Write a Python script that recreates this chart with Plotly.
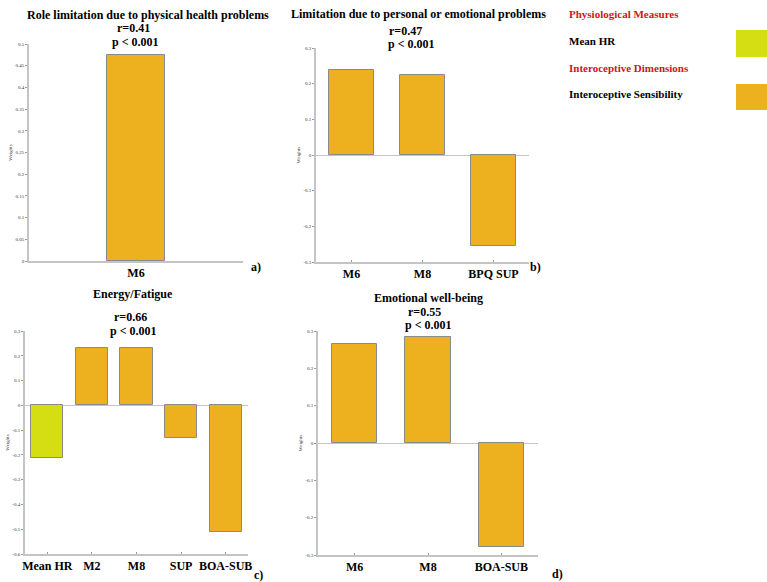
import plotly.graph_objects as go

W, H = 767, 582

# ---- data ----
a_cats = ["M6"]
a_vals = [0.475]
b_cats = ["M6", "M8", "BPQ SUP"]
b_vals = [0.238, 0.224, -0.254]
c_cats = ["Mean HR", "M2", "M8", "SUP", "BOA-SUB"]
c_vals = [-0.213, 0.232, 0.232, -0.131, -0.51]
c_groups = ["physio", "intero", "intero", "intero", "intero"]
d_cats = ["M6", "M8", "BOA-SUB"]
d_vals = [0.264, 0.283, -0.279]

a_ticks = [0, 0.05, 0.1, 0.15, 0.2, 0.25, 0.3, 0.35, 0.4, 0.45, 0.5]
b_ticks = [-0.3, -0.2, -0.1, 0, 0.1, 0.2, 0.3]
c_ticks = [-0.6, -0.5, -0.4, -0.3, -0.2, -0.1, 0, 0.1, 0.2, 0.3]
d_ticks = [-0.3, -0.2, -0.1, 0, 0.1, 0.2, 0.3]

COL_INTERO = "#EDB120"
COL_PHYSIO = "#D4DE12"
EDGE = "#8a8a8a"
AX = "#c4c4c4"
SERIF = "Liberation Serif"

fig = go.Figure()

def px_x(x):
    return x / W

def px_y(y):
    return 1 - y / H

panels = [
    ("a", a_cats, a_vals, [COL_INTERO], (29, 243), (44, 261), (0, 0.5), a_ticks, (-1.125, 1.125), 0.6),
    ("b", b_cats, b_vals, [COL_INTERO]*3, (316, 529), (48, 262), (-0.3, 0.3), b_ticks, (-0.5, 2.5), 0.62),
    ("c", c_cats, c_vals, [COL_PHYSIO if g == "physio" else COL_INTERO for g in c_groups],
     (25, 248), (331, 554), (-0.6, 0.3), c_ticks, (-0.5, 4.5), 0.72),
    ("d", d_cats, d_vals, [COL_INTERO]*3, (318, 538), (331, 555), (-0.3, 0.3), d_ticks, (-0.5, 2.5), 0.62),
]

def fmt(v):
    s = ("%.2f" % v).rstrip("0").rstrip(".")
    return "0" if s in ("-0", "0") else s

for i, (name, cats, vals, cols, xd, yd, yr, tv, xr, bw) in enumerate(panels):
    k = "" if i == 0 else str(i + 1)
    fig.add_trace(go.Bar(
        x=list(range(len(cats))), y=vals, width=bw,
        marker=dict(color=cols, line=dict(color=EDGE, width=1)),
        xaxis="x" + k, yaxis="y" + k, showlegend=False,
    ))
    fig.layout["xaxis" + k] = dict(
        domain=[px_x(xd[0]), px_x(xd[1])], range=list(xr), anchor="y" + k,
        tickmode="array", tickvals=list(range(len(cats))),
        ticktext=["<b>%s</b>" % c for c in cats],
        tickfont=dict(family=SERIF, size=12, color="black"), tickangle=0,
        showline=True, linecolor=AX, linewidth=1.5, showgrid=False, zeroline=False,
        ticks="inside", ticklen=2, tickcolor="#999", fixedrange=True, automargin=False,
    )
    fig.layout["yaxis" + k] = dict(
        domain=[px_y(yd[1]), px_y(yd[0])], range=list(yr), anchor="x" + k,
        tickmode="array", tickvals=tv, ticktext=[fmt(v) for v in tv],
        tickfont=dict(family=SERIF, size=5, color="#333"),
        showline=True, linecolor=AX, linewidth=1.5, showgrid=False,
        zeroline=True, zerolinecolor=AX, zerolinewidth=1.2,
        ticks="outside", ticklen=2, tickcolor="#999", automargin=False,
        title=dict(text="Weights", font=dict(family=SERIF, size=5, color="#333"), standoff=3),
    )

def txt(x, y, s, size=12, color="black", xanchor="center"):
    fig.add_annotation(x=px_x(x), y=px_y(y), xref="paper", yref="paper", text=s,
                       showarrow=False, xanchor=xanchor, yanchor="middle",
                       font=dict(family=SERIF, size=size, color=color))

# titles
txt(148, 15, "<b>Role limitation due to physical health problems</b>")
txt(133, 28, "<b>r=0.41</b>")
txt(135, 42, "<b>p &lt; 0.001</b>")
txt(418, 14, "<b>Limitation due to personal or emotional problems</b>")
txt(405, 31, "<b>r=0.47</b>")
txt(411, 44, "<b>p &lt; 0.001</b>")
txt(133, 294, "<b>Energy/Fatigue</b>")
txt(130, 317, "<b>r=0.66</b>")
txt(133, 331, "<b>p &lt; 0.001</b>")
txt(428, 298, "<b>Emotional well-being</b>")
txt(424, 312, "<b>r=0.55</b>")
txt(428, 325, "<b>p &lt; 0.001</b>")

# panel letters
txt(256, 267, "<b>a)</b>")
txt(535, 267, "<b>b)</b>")
txt(258, 575, "<b>c)</b>")
txt(557, 574, "<b>d)</b>")

# legend
RED = "#d0141c"
txt(567, 14, "<b>Physiological Measures</b>", size=11, color=RED, xanchor="left")
txt(567, 41, "<b>Mean HR</b>", size=11, xanchor="left")
txt(567, 68, "<b>Interoceptive Dimensions</b>", size=11, color=RED, xanchor="left")
txt(567, 94, "<b>Interoceptive Sensibility</b>", size=11, xanchor="left")
fig.add_shape(type="rect", xref="paper", yref="paper",
              x0=px_x(736), x1=px_x(767), y0=px_y(57), y1=px_y(30),
              fillcolor=COL_PHYSIO, line=dict(width=0))
fig.add_shape(type="rect", xref="paper", yref="paper",
              x0=px_x(736), x1=px_x(767), y0=px_y(110), y1=px_y(84),
              fillcolor=COL_INTERO, line=dict(width=0))

fig.update_layout(
    width=W, height=H, margin=dict(l=0, r=0, t=0, b=0, autoexpand=False),
    paper_bgcolor="white", plot_bgcolor="white", bargap=0,
)

fig.write_html("out.html")
